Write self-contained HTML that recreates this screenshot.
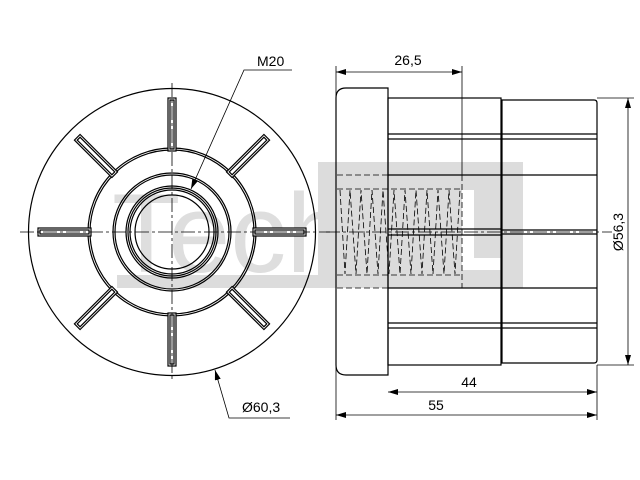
<!DOCTYPE html>
<html><head><meta charset="utf-8"><style>body{margin:0;background:#fff}svg{display:block}</style></head>
<body>
<svg width="640" height="480" viewBox="0 0 640 480" xmlns="http://www.w3.org/2000/svg" font-family="Liberation Sans, sans-serif">
<defs>
<marker id="a" viewBox="0 0 10 6" refX="10" refY="3" markerWidth="10" markerHeight="6" orient="auto-start-reverse" markerUnits="userSpaceOnUse"><path d="M0,0 L10,3 L0,6 z" fill="#000"/></marker>
</defs>
<!-- watermark -->
<g fill="#dcdcdc">
<text x="112" y="272" font-size="112" fill="#dedede">Tech</text>
<rect x="117" y="275" width="213" height="13"/>
<rect x="318" y="162" width="205" height="126"/>
</g>
<rect x="462" y="190" width="12" height="80" fill="#fff"/>
<rect x="462" y="258" width="40" height="12" fill="#fff"/>
<!-- left view -->
<g fill="none" stroke="#000" stroke-width="1.2">
<circle cx="172" cy="232" r="143.5"/>
<circle cx="172" cy="232" r="84"/><circle cx="172" cy="232" r="82"/>
<circle cx="172" cy="232" r="59"/><circle cx="172" cy="232" r="57"/>
<circle cx="172" cy="232" r="46"/><circle cx="172" cy="232" r="44"/><circle cx="172" cy="232" r="42"/>
<circle cx="172" cy="232" r="37"/>
<g id="r"><rect x="168" y="98" width="8" height="53" fill="#fff"/><rect x="170" y="100" width="4" height="49"/></g>
<use href="#r" transform="rotate(45 172 232)"/><use href="#r" transform="rotate(90 172 232)"/><use href="#r" transform="rotate(135 172 232)"/>
<use href="#r" transform="rotate(180 172 232)"/><use href="#r" transform="rotate(225 172 232)"/><use href="#r" transform="rotate(270 172 232)"/><use href="#r" transform="rotate(315 172 232)"/>
</g>
<g stroke="#000" stroke-width="0.8" stroke-dasharray="14,3,3,3" fill="none">
<line x1="20" y1="232" x2="330" y2="232"/><line x1="172" y1="83" x2="172" y2="380"/>
<line x1="326" y1="232" x2="612" y2="232"/>
</g>
<!-- leaders -->
<g stroke="#000" stroke-width="0.8" fill="none">
<polyline points="292,70 244,70 191,189" marker-end="url(#a)"/>
<polyline points="290,418 229,418 215,370" marker-end="url(#a)"/>
</g>
<text x="257" y="66" font-size="14">M20</text>
<text x="242" y="412" font-size="14">Ø60,3</text>
<!-- side view -->
<g fill="none" stroke="#000" stroke-width="1.2">
<path d="M388,88 H346 Q336,88 336,98 V365 Q336,375 346,375 H388 Z"/>
<rect x="388" y="98" width="113" height="267"/>
<path d="M502,100 H594 Q597,100 597,103 V360 Q597,363 594,363 H502 Z"/>
<line x1="388" y1="134" x2="597" y2="134"/><line x1="388" y1="139" x2="597" y2="139"/>
<line x1="388" y1="175" x2="597" y2="175"/><line x1="388" y1="288" x2="597" y2="288"/>
<line x1="388" y1="323" x2="597" y2="323"/><line x1="388" y1="328" x2="597" y2="328"/>
<line x1="388" y1="229" x2="501" y2="229"/><line x1="388" y1="235" x2="501" y2="235"/>
<line x1="502" y1="230" x2="597" y2="230"/><line x1="502" y1="234" x2="597" y2="234"/>
</g>
<g fill="none" stroke="#000" stroke-width="0.8" stroke-dasharray="6,3">
<line x1="337" y1="175" x2="462" y2="175"/><line x1="337" y1="288" x2="462" y2="288"/>
<line x1="337" y1="189" x2="462" y2="189"/><line x1="337" y1="275" x2="462" y2="275"/>
<line x1="462" y1="175" x2="462" y2="288"/>
<path d="M340,190 L345,274 L350,190 L356,274 L361,190 L367,274 L372,190 L378,274 L383,190 L389,274 L394,190 L400,274 L405,190 L411,274 L416,190 L422,274 L427,190 L433,274 L438,190 L444,274 L449,190 L455,274 L460,190"/>
</g>
<!-- dimensions -->
<g stroke="#000" stroke-width="0.8" fill="none">
<line x1="336" y1="66" x2="336" y2="420"/><line x1="462" y1="66" x2="462" y2="175"/>
<line x1="597" y1="365" x2="597" y2="420"/><line x1="597" y1="98" x2="634" y2="98"/><line x1="597" y1="365" x2="634" y2="365"/>
<line x1="336" y1="72" x2="462" y2="72" marker-start="url(#a)" marker-end="url(#a)"/>
<line x1="388" y1="392" x2="597" y2="392" marker-start="url(#a)" marker-end="url(#a)"/>
<line x1="336" y1="415" x2="597" y2="415" marker-start="url(#a)" marker-end="url(#a)"/>
<line x1="628" y1="98" x2="628" y2="365" marker-start="url(#a)" marker-end="url(#a)"/>
</g>
<g font-size="14" text-anchor="middle">
<text x="408" y="65">26,5</text>
<text x="469" y="387">44</text>
<text x="436" y="410">55</text>
<text transform="translate(623,232) rotate(-90)">Ø56,3</text>
</g>
</svg>
</body></html>
